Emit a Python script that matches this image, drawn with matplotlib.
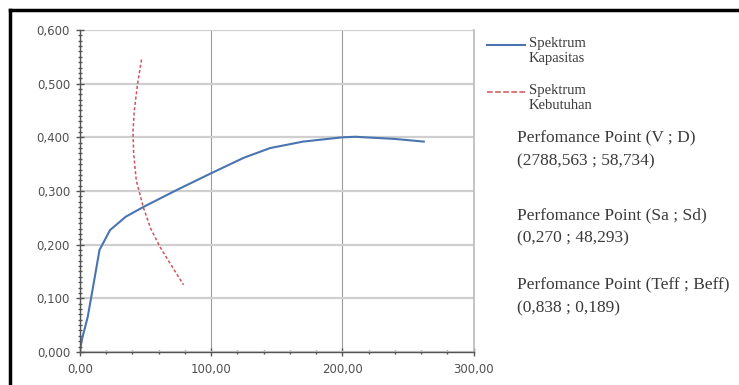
import matplotlib.pyplot as plt
from matplotlib.lines import Line2D
from matplotlib.ticker import MultipleLocator, FuncFormatter

# capacity spectrum (Sd, Sa)
cap_sd = [0, 1.5, 6, 10, 15, 23, 35, 48.3, 74, 100, 125, 145, 170, 200, 210, 240, 262]
cap_sa = [0, 0.022, 0.065, 0.12, 0.19, 0.227, 0.252, 0.270, 0.302, 0.333, 0.362,
          0.380, 0.392, 0.400, 0.401, 0.397, 0.392]

# demand spectrum (Sd, Sa)
dem_sd = [47, 44, 41.5, 40.5, 41, 43, 48.3, 54, 61, 70, 79]
dem_sa = [0.545, 0.50, 0.45, 0.41, 0.37, 0.32, 0.270, 0.23, 0.196, 0.16, 0.125]

series_names = ["Spektrum\nKapasitas", "Spektrum\nKebutuhan"]

notes = [
    "Perfomance Point (V ; D)\n(2788,563 ; 58,734)",
    "Perfomance Point (Sa ; Sd)\n(0,270 ; 48,293)",
    "Perfomance Point (Teff ; Beff)\n(0,838 ; 0,189)",
]

W, H = 739, 385
fig = plt.figure(figsize=(W / 100, H / 100), dpi=100)
ax = fig.add_axes([0.108, 0.086, 0.533, 0.836])

l1, = ax.plot(cap_sd, cap_sa, color="#4a74b0", lw=1.5)
l2, = ax.plot(dem_sd, dem_sa, color="#d2505a", lw=1.1, ls=(0, (2, 1.5)))

ax.set_xlim(0, 300)
ax.set_ylim(0, 0.6)
ax.xaxis.set_major_locator(MultipleLocator(100))
ax.xaxis.set_minor_locator(MultipleLocator(20))
ax.yaxis.set_major_locator(MultipleLocator(0.1))
ax.yaxis.set_minor_locator(MultipleLocator(0.01))
ax.xaxis.set_major_formatter(FuncFormatter(lambda v, p: f"{v:.2f}".replace(".", ",")))
ax.yaxis.set_major_formatter(FuncFormatter(lambda v, p: f"{v:.3f}".replace(".", ",")))

ax.grid(True, axis="y", which="major", color="#cfcfcf", lw=1.6)
ax.grid(True, axis="x", which="major", color="#9a9a9a", lw=0.8)
ax.set_axisbelow(True)

ax.spines["top"].set_visible(False)
ax.spines["right"].set_color("#bbbbbb")
ax.spines["right"].set_linewidth(1.2)
for s in ["left", "bottom"]:
    ax.spines[s].set_color("#555555")
    ax.spines[s].set_linewidth(1.0)

ax.tick_params(which="both", direction="inout", color="#555555", labelcolor="#505050",
               labelsize=8.5)
ax.tick_params(which="major", length=6, width=1)
ax.tick_params(which="minor", length=3, width=1)
ax.tick_params(axis="x", pad=5)
ax.tick_params(axis="y", pad=4)

# legend, handle aligned with first text line like the original
for line, name, ytop in zip([l1, l2], series_names, [45, 92]):
    yf = 1 - ytop / H
    fig.add_artist(Line2D([487 / W, 525 / W], [yf, yf], color=line.get_color(),
                          lw=line.get_linewidth(), ls=line.get_linestyle(),
                          transform=fig.transFigure))
    fig.text(529 / W, yf + 8 / H, name, family="Liberation Serif", size=10.5,
             color="#3a3a3a", va="top", linespacing=1.2)

ys = [150, 227, 297]
for t, y in zip(notes, ys):
    fig.text(517 / W, 1 - y / H, t, family="Liberation Serif", size=12.5,
             color="#3a3a3a", linespacing=1.55, va="center")

# outer frame (only top and left edges visible)
fig.add_artist(Line2D([0.0135, 1.0], [0.974, 0.974], color="black", lw=2.5,
                      transform=fig.transFigure))
fig.add_artist(Line2D([0.0135, 0.0135], [0.0, 0.974], color="black", lw=2.5,
                      transform=fig.transFigure))

fig.savefig("out.png", dpi=100)
